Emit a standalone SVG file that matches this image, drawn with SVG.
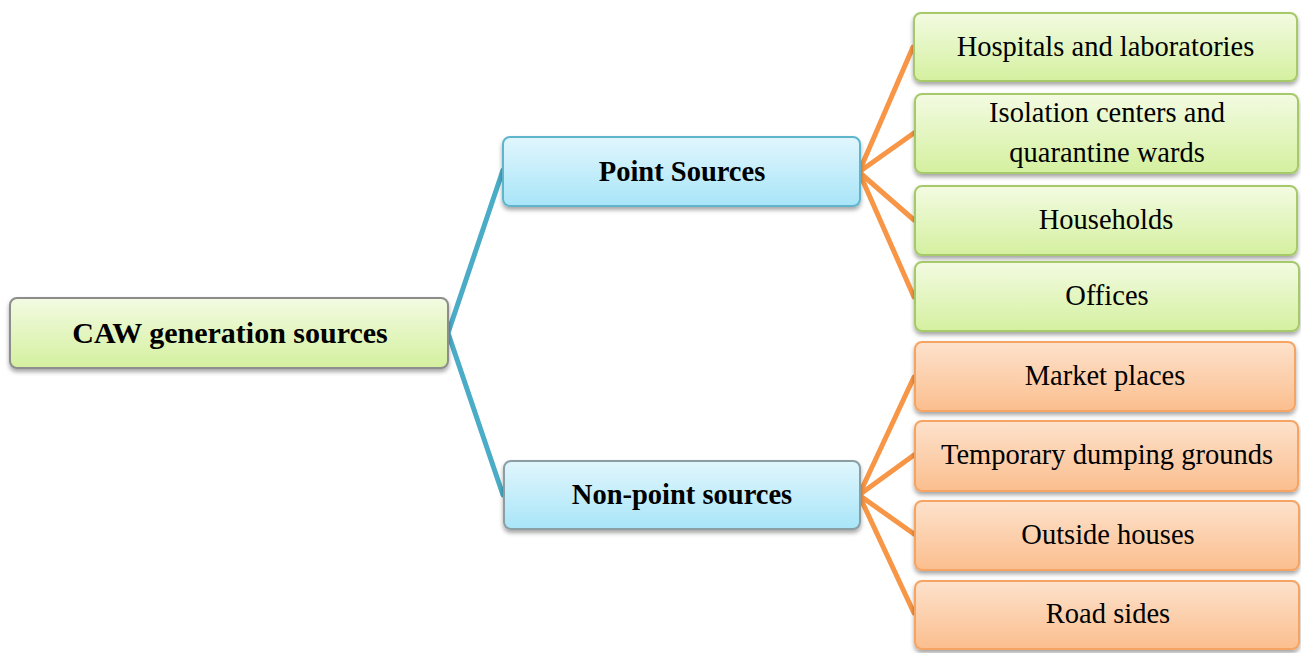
<svg xmlns="http://www.w3.org/2000/svg" width="1301" height="653" viewBox="0 0 1301 653">
<defs>
<linearGradient id="gGreen" x1="0" y1="0" x2="0" y2="1"><stop offset="0" stop-color="#f3fbe2"/><stop offset="1" stop-color="#d4f09f"/></linearGradient>
<linearGradient id="gBlue" x1="0" y1="0" x2="0" y2="1"><stop offset="0" stop-color="#e1f6fd"/><stop offset="1" stop-color="#a8e5f8"/></linearGradient>
<linearGradient id="gOrange" x1="0" y1="0" x2="0" y2="1"><stop offset="0" stop-color="#fde2cc"/><stop offset="1" stop-color="#fbbe8e"/></linearGradient>
<filter id="sh" x="-5%" y="-10%" width="110%" height="130%"><feDropShadow dx="0" dy="3" stdDeviation="2" flood-color="#000" flood-opacity="0.35"/></filter>
<style>
.box{filter:url(#sh);stroke-width:2}
.green{fill:url(#gGreen);stroke:#a6c96a}
.blue{fill:url(#gBlue);stroke:#5fb6cc}
.blue2{fill:url(#gBlue);stroke:#8a9ea4}
.root{fill:url(#gGreen);stroke:#8d8d8d}
.orange{fill:url(#gOrange);stroke:#f5a463}
.bt{font-family:"Liberation Serif","Times New Roman",serif;font-weight:bold;font-size:28.5px;fill:#000;text-anchor:middle}
.t{font-family:"Liberation Serif","Times New Roman",serif;font-size:28.5px;fill:#000;text-anchor:middle}
.cb{stroke:#4aacc6;stroke-width:5;fill:none;stroke-linecap:round}
.co{stroke:#f79646;stroke-width:5;fill:none;stroke-linecap:round}
</style>
</defs>
<rect width="1301" height="653" fill="#fff"/>
<g id="connectors">
<path class="cb" d="M448 333 L503 170 M448 333 L503 495"/>
<path class="co" d="M859 172 L913 47 M859 172 L914 133 M859 172 L914 220 M859 172 L914 297"/>
<path class="co" d="M859 495 L914 377 M859 495 L914 455 M859 495 L914 534 M859 495 L914 613"/>
</g>
<g id="root"><rect class="box root" x="10" y="298" width="438" height="70" rx="7"/><text class="bt" x="230" y="343" style="font-size:30px">CAW generation sources</text></g>
<g id="point"><rect class="box blue" x="503" y="137" width="357" height="69" rx="7"/><text class="bt" x="682" y="181">Point Sources</text></g>
<g id="nonpoint"><rect class="box blue2" x="504" y="461" width="356" height="68" rx="7"/><text class="bt" x="682" y="504">Non-point sources</text></g>
<g id="hospitals"><rect class="box green" x="914" y="13" width="383" height="68" rx="7"/><text class="t" x="1105.5" y="56">Hospitals and laboratories</text></g>
<g id="isolation"><rect class="box green" x="915" y="94" width="383" height="79" rx="7"/><text class="t" x="1107" y="122">Isolation centers and</text><text class="t" x="1107" y="162">quarantine wards</text></g>
<g id="households"><rect class="box green" x="915" y="186" width="382" height="69" rx="7"/><text class="t" x="1106" y="229">Households</text></g>
<g id="offices"><rect class="box green" x="915" y="262" width="384" height="69" rx="7"/><text class="t" x="1107" y="305">Offices</text></g>
<g id="market"><rect class="box orange" x="915" y="342" width="380" height="69" rx="7"/><text class="t" x="1105" y="385">Market places</text></g>
<g id="temporary"><rect class="box orange" x="915" y="421" width="383" height="70" rx="7"/><text class="t" x="1107" y="464">Temporary dumping grounds</text></g>
<g id="outside"><rect class="box orange" x="915" y="501" width="384" height="69" rx="7"/><text class="t" x="1108" y="544">Outside houses</text></g>
<g id="road"><rect class="box orange" x="915" y="581" width="384" height="68" rx="7"/><text class="t" x="1108" y="623">Road sides</text></g>
</svg>
